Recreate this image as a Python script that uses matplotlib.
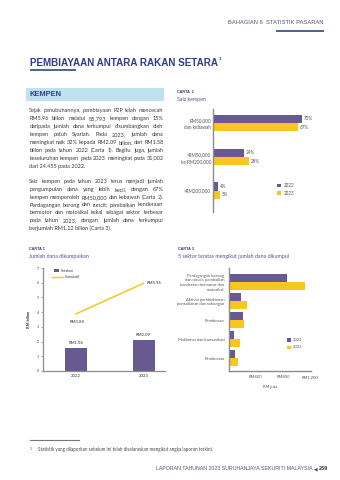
import matplotlib
matplotlib.use('Agg')
import matplotlib.pyplot as plt
from matplotlib.patches import Rectangle
from matplotlib import font_manager

# ---------------- colours ----------------
PURPLE = '#685a91'
YELLOW = '#f9c621'
NAVY = '#2e3b8b'
CARTA_C = '#3a3578'
SUB_C = '#5b4c9c'
GRAY_T = '#555555'
AXIS_C = '#8c8c8c'
_names = {f.name for f in font_manager.fontManager.ttflist}
BODY_FONT = 'Liberation Sans Narrow' if 'Liberation Sans Narrow' in _names else 'Lato'
CHART_FONT = 'Lato'
HEAD_FONT = 'Liberation Sans'

# ---------------- data ----------------
c1_years = ['2022', '2023']
c1_setahun = [1.58, 2.09]
c1_kumulatif = [3.88, 5.96]
c1_yticks = [0, 1, 2, 3, 4, 5, 6, 7]

c2_cats = ['RM50,000\ndan kebawah', '>RM50,000\nke RM200,000', '>RM200,000']
c2_2022 = [70, 24, 4]
c2_2023 = [67, 28, 5]

c3_sectors = ['Perdagangan borong\ndan runcit; pembaikan\nkenderaan bermotor dan\nmotosikal',
              'Aktiviti perkhidmatan\npentadbiran dan sokongan',
              'Pembinaan',
              'Maklumat dan komunikasi',
              'Pembuatan']
c3_2022 = [855, 181, 211, 74, 88]
c3_2023 = [1120, 270, 226, 172, 137]
c3_ticks = [400, 800, 1200]
c3_ticklabels = ['RM400', 'RM800', 'RM1,200']
legend_years = ['2022', '2023']

para1 = ["Sejak penubuhannya, pembiayaan P2P telah mencecah",
         "RM5.96 bilion melalui 85,793 kempen dengan 15%",
         "daripada jumlah dana terkumpul disumbangkan oleh",
         "kempen patuh Syariah. Pada 2023, jumlah dana",
         "meningkat naik 32% kepada RM2.09 bilion, dari RM1.58",
         "bilion pada tahun 2022 (Carta 1). Begitu juga, jumlah",
         "keseluruhan kempen pada 2023 meningkat pada 31,002",
         "dari 24.455 pada 2022."]
para2 = ["Saiz kempen pada tahun 2023 terus menjadi jumlah",
         "pengumpulan dana yang lebih kecil, dengan 67%",
         "kempen memperoleh RM50,000 dan kebawah (Carta 2).",
         "Perdagangan borong dan runcit; pembaikan kenderaan",
         "bermotor dan motosikal kekal sebagai sektor terbesar",
         "pada tahun 2023, dengan jumlah dana terkumpul",
         "berjumlah RM1.12 bilion (Carta 3)."]

# ---------------- figure ----------------
W, H = 340, 480
fig = plt.figure(figsize=(3.4, 4.8), dpi=100)
fig.patch.set_facecolor('white')
page = fig.add_axes([0, 0, 1, 1])
page.set_xlim(0, W)
page.set_ylim(H, 0)
page.axis('off')
renderer = fig.canvas.get_renderer()


def tw(s, size, family=CHART_FONT, weight='normal'):
    t = page.text(0, 0, s, fontsize=size, family=family, fontweight=weight)
    w = t.get_window_extent(renderer).width
    t.remove()
    return w


def fit(s, width, family=CHART_FONT, weight='normal'):
    return 10.0 * width / tw(s, 10.0, family, weight)


def px_axes(x0, y0, x1, y1):
    return fig.add_axes([x0 / W, 1 - y1 / H, (x1 - x0) / W, (y1 - y0) / H])


BODY_W = 134.2
MIN_GAP = 0.9


def body_size(lines):
    best = 4.8
    for line in lines:
        words = line.split(' ')
        if len(words) < 2:
            continue
        sw = sum(tw(w, 10, BODY_FONT) for w in words)
        best = min(best, 10 * (BODY_W - (len(words) - 1) * MIN_GAP) / sw)
    return best


def justify(lines, x0, y0, dy, fs, color='#3a3a3a'):
    x1 = x0 + BODY_W
    for i, line in enumerate(lines):
        y = y0 + i * dy + 1.7
        words = line.split(' ')
        if i == len(lines) - 1 or len(words) == 1:
            page.text(x0, y, line, fontsize=fs, family=BODY_FONT, color=color,
                      ha='left', va='baseline')
            continue
        widths = [tw(w, fs, BODY_FONT) for w in words]
        gap = (x1 - x0 - sum(widths)) / (len(words) - 1)
        x = x0
        for w, wd in zip(words, widths):
            page.text(x, y, w, fontsize=fs, family=BODY_FONT, color=color,
                      ha='left', va='baseline')
            x += wd + gap


# ---------------- header ----------------
hs = fit('BAHAGIAN 6  STATISTIK PASARAN', 95, HEAD_FONT)
page.text(324, 22.7, 'BAHAGIAN 6  STATISTIK PASARAN', fontsize=hs, family=HEAD_FONT,
          color='#4d5873', ha='right', va='center')
page.add_patch(Rectangle((276, 29.8), 48, 1.8, color='#4a6790', lw=0))

# title
title = 'PEMBIAYAAN ANTARA RAKAN SETARA'
ts = fit(title, 188, HEAD_FONT, 'bold')
page.text(30, 62.5, title, fontsize=ts, family=HEAD_FONT, fontweight='bold',
          color=NAVY, ha='left', va='center')
page.text(219, 59.5, '1', fontsize=ts * 0.45, family=HEAD_FONT, fontweight='bold',
          color=NAVY, ha='left', va='center')
page.add_patch(Rectangle((29.5, 69.2), 46, 1.6, color='#4a6a9a', lw=0))

# KEMPEN box
page.add_patch(Rectangle((26, 88), 138, 13, color='#bfe3ee', lw=0))
ks = fit('KEMPEN', 32, HEAD_FONT, 'bold')
page.text(29.3, 94.8, 'KEMPEN', fontsize=ks, family=HEAD_FONT, fontweight='bold',
          color=NAVY, ha='left', va='center')

# body text
bfs = body_size(para1[:-1] + para2[:-1])
justify(para1, 29.3, 110.3, 7.95, bfs)
justify(para2, 29.3, 181.7, 7.7, bfs)

# chart headings
cs = fit('CARTA 1', 15.7, HEAD_FONT, 'bold')
for x, y, s in [(29.3, 249, 'CARTA 1'), (177, 91.7, 'CARTA  2'), (177.5, 249, 'CARTA 3')]:
    page.text(x, y, s, fontsize=cs, family=HEAD_FONT, fontweight='bold', color=CARTA_C,
              ha='left', va='center')
ss = fit('5 sektor teratas mengikut jumlah dana dikumpul', 110)
for x, y, s in [(29.3, 256.3, 'Jumlah dana dikumpulkan'), (177, 99, 'Saiz kempen'),
                (177.5, 256.3, '5 sektor teratas mengikut jumlah dana dikumpul')]:
    page.text(x, y, s, fontsize=ss, family=CHART_FONT, color=SUB_C, ha='left', va='center')

# ---------------- CARTA 1 ----------------
ax1 = px_axes(43, 268, 165, 371)
x1 = [0, 1]
ax1.bar(x1, c1_setahun, width=0.326, color=PURPLE, zorder=2)
ax1.plot(x1, c1_kumulatif, color=YELLOW, lw=1.1, zorder=3)
ax1.set_xlim(-0.489, 1.318)
ax1.set_ylim(0, 7)
ax1.set_xticks(x1)
tfs = fit('2022', 10)
ax1.set_xticklabels(c1_years, fontsize=tfs, family=CHART_FONT, color='#333333')
ax1.set_yticks(c1_yticks)
ax1.set_yticklabels([str(v) for v in c1_yticks], fontsize=tfs * 0.85, family=CHART_FONT,
                    color='#444444')
ax1.tick_params(axis='x', length=0, pad=2.2)
ax1.tick_params(axis='y', length=1.3, width=0.5, color=AXIS_C, pad=1.6)
for s in ['top', 'right']:
    ax1.spines[s].set_visible(False)
for s in ['left', 'bottom']:
    ax1.spines[s].set_color(AXIS_C)
    ax1.spines[s].set_linewidth(0.9)
ax1.set_facecolor('none')
lfs = fit('RM1.58', 15)
for xi, v in zip(x1, c1_setahun):
    ax1.annotate(f'RM{v:.2f}', (xi, v), xytext=(0, 2.3), textcoords='offset points',
                 ha='center', va='bottom', fontsize=lfs, family=CHART_FONT, color='#333333')
ax1.annotate(f'RM{c1_kumulatif[0]:.2f}', (x1[0], c1_kumulatif[0]), xytext=(1, -5.5),
             textcoords='offset points', ha='center', va='center', fontsize=lfs,
             family=CHART_FONT, color='#333333')
ax1.annotate(f'RM{c1_kumulatif[1]:.2f}', (x1[1], c1_kumulatif[1]), xytext=(2.5, 0.5),
             textcoords='offset points', ha='left', va='center', fontsize=lfs,
             family=CHART_FONT, color='#333333')
ax1.set_ylabel('RM bilion', fontsize=lfs * 0.95, family=CHART_FONT, fontweight='bold',
               color='#333333')
ax1.yaxis.set_label_coords(-0.098, 0.5)
# legend (manual)
page.add_patch(Rectangle((54.3, 269), 4.7, 3.4, color=PURPLE, lw=0))
page.plot([51.7, 63], [277.3, 277.3], color=YELLOW, lw=1.0)
gfs = fit('Setahun', 13)
page.text(61, 270.7, 'Setahun', fontsize=gfs, family=CHART_FONT, color='#333333',
          ha='left', va='center')
page.text(64.3, 277.3, 'Kumulatif', fontsize=gfs, family=CHART_FONT, color='#333333',
          ha='left', va='center')

# ---------------- CARTA 2 ----------------
ax2 = px_axes(213.3, 109.5, 340, 211.7)
y2 = list(range(len(c2_cats)))
h2 = 0.246
ax2.barh([y - h2 / 2 for y in y2], c2_2022, height=h2, color=PURPLE)
ax2.barh([y + h2 / 2 for y in y2], c2_2023, height=h2, color=YELLOW)
ax2.set_xlim(0, (340 - 213.3) / 1.26)
ax2.set_ylim(2.621, -0.4)
ax2.set_yticks(y2)
c2fs = fit('>RM50,000', 24)
ax2.set_yticklabels(c2_cats, fontsize=c2fs, family=CHART_FONT, color=GRAY_T,
                    linespacing=1.45)
ax2.tick_params(axis='y', length=0, pad=1.6)
ax2.set_xticks([])
for s in ['top', 'right', 'bottom']:
    ax2.spines[s].set_visible(False)
ax2.spines['left'].set_color(AXIS_C)
ax2.spines['left'].set_linewidth(1.0)
ax2.set_facecolor('none')
for y, v in zip(y2, c2_2022):
    ax2.annotate(f'{v}%', (v, y - h2 / 2), xytext=(1.3, 0), textcoords='offset points',
                 ha='left', va='center', fontsize=c2fs, family=CHART_FONT, color=GRAY_T)
for y, v in zip(y2, c2_2023):
    ax2.annotate(f'{v}%', (v, y + h2 / 2), xytext=(1.3, 0), textcoords='offset points',
                 ha='left', va='center', fontsize=c2fs, family=CHART_FONT, color=GRAY_T)
# legend
for (yy, col, lab) in [(183.5, PURPLE, legend_years[0]), (191.2, YELLOW, legend_years[1])]:
    page.add_patch(Rectangle((277.3, yy), 3.8, 3.8, color=col, lw=0))
    page.text(283.3, yy + 1.9, lab, fontsize=c2fs, family=CHART_FONT, color=GRAY_T,
              ha='left', va='center')

# ---------------- CARTA 3 ----------------
ax3 = px_axes(228.7, 268, 311, 370.5)
y3 = list(range(len(c3_sectors)))
h3 = 0.41
ax3.barh([y - h3 / 2 for y in y3], c3_2022, height=h3, color=PURPLE)
ax3.barh([y + h3 / 2 for y in y3], c3_2023, height=h3, color=YELLOW)
ax3.set_xlim(0, 1213)
ax3.set_ylim(4.64, -0.734)
ax3.set_yticks(y3)
c3fs = fit('Maklumat dan komunikasi', 47.6)
ax3.set_yticklabels(c3_sectors, fontsize=c3fs, family=CHART_FONT, color=GRAY_T,
                    linespacing=1.25)
ax3.tick_params(axis='y', length=0, pad=3.1)
ax3.set_xticks(c3_ticks)
ax3.set_xticklabels(c3_ticklabels, fontsize=c3fs, family=CHART_FONT, color=GRAY_T)
ax3.tick_params(axis='x', length=0, pad=3.3)
for s in ['top', 'right']:
    ax3.spines[s].set_visible(False)
for s in ['left', 'bottom']:
    ax3.spines[s].set_color(AXIS_C)
    ax3.spines[s].set_linewidth(1.0)
ax3.set_facecolor('none')
ax3.set_xlabel('RM juta', fontsize=c3fs, family=CHART_FONT, color=GRAY_T)
ax3.xaxis.set_label_coords(0.5, -0.165)
ax3.xaxis.label.set_va('center')
for (yy, col, lab) in [(338.3, PURPLE, legend_years[0]), (345.7, YELLOW, legend_years[1])]:
    page.add_patch(Rectangle((287.3, yy), 3.7, 3.6, color=col, lw=0))
    page.text(292.8, yy + 1.8, lab, fontsize=c3fs, family=CHART_FONT, color=GRAY_T,
              ha='left', va='center')

# ---------------- footnote & footer ----------------
page.plot([30, 79], [440, 440], color='#777777', lw=0.8)
fn = 'Statistik yang dilaporkan sebelum ini telah diselaraskan mengikut angka laporan terkini.'
fs_fn = fit(fn, 171.3)
page.text(29.3, 448.8, '1', fontsize=fs_fn * 0.8, family=CHART_FONT, color='#555555',
          ha='left', va='center')
page.text(37.7, 449.5, fn, fontsize=fs_fn, family=CHART_FONT, color='#444444',
          ha='left', va='center')
foot = 'LAPORAN TAHUNAN 2023 SURUHANJAYA SEKURITI MALAYSIA'
ffs = fit(foot, 159, HEAD_FONT)
page.text(312.5, 469, foot, fontsize=ffs, family=HEAD_FONT, color='#4d5873',
          ha='right', va='center')
page.text(316, 469, '\u25C0', fontsize=ffs * 0.9, family='DejaVu Sans', color='#3a4a7a',
          ha='center', va='center')
page.text(318.5, 469, '239', fontsize=ffs * 1.05, family=HEAD_FONT, fontweight='bold',
          color='#333333', ha='left', va='center')

fig.savefig('out.png', dpi=100)
